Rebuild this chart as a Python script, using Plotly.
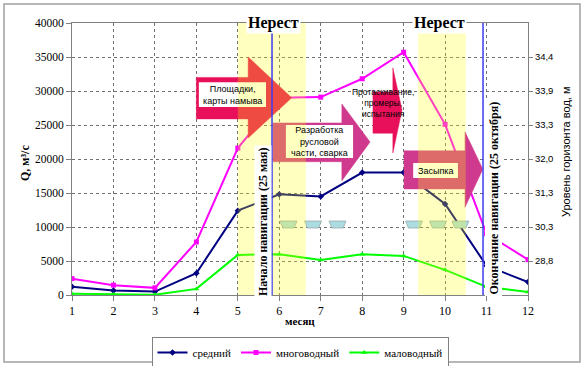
import plotly.graph_objects as go

# ---------------- data ----------------
months = list(range(1, 13))
q_mean = [1200, 650, 500, 3200, 12400, 14800, 14500, 18000, 18000, 13400, 4300, 1900]
q_high = [2400, 1450, 1050, 7800, 21600, 29000, 29100, 31800, 35700, 25100, 9000, 5200]
q_low = [200, 80, 40, 900, 5900, 6000, 5150, 6000, 5750, 3700, 1200, 450]
series_names = ["средний", "многоводный", "маловодный"]
level_tickvals = [5000, 10000, 15000, 20000, 25000, 30000, 35000]
level_ticktext = ["28,8", "30,3", "31,3", "32,0", "33,3", "33,9", "34,4"]
q_tickvals = [0, 5000, 10000, 15000, 20000, 25000, 30000, 35000, 40000]

SERIF = "Liberation Serif"
SANS = "Liberation Sans"

fig = go.Figure()
styles = [("#000080", "diamond"), ("#FF00FF", "square"), ("#00FF00", "triangle-up")]
for vals, name, (col, sym) in zip([q_mean, q_high, q_low], series_names, styles):
    fig.add_trace(go.Scatter(x=months, y=vals, name=name, mode="lines+markers",
                             line=dict(color=col, width=2),
                             marker=dict(color=col, symbol=sym, size=5)))
# invisible trace for right axis
fig.add_trace(go.Scatter(x=[1], y=[0], yaxis="y2", showlegend=False,
                         mode="markers", marker=dict(opacity=0), hoverinfo="skip"))

shapes = []
annotations = []


def arrow(bx0, bx1, by0, by1, hy0, hy1, tx, ty, color):
    path = (f"M {bx0},{by1} L {bx1},{by1} L {bx1},{hy1} L {tx},{ty} "
            f"L {bx1},{hy0} L {bx1},{by0} L {bx0},{by0} Z")
    shapes.append(dict(type="path", path=path, xref="x", yref="y",
                       fillcolor=color, line=dict(color=color, width=0.5), layer="above"))


def box(x0, x1, y0, y1):
    shapes.append(dict(type="rect", x0=x0, x1=x1, y0=y0, y1=y1, xref="x", yref="y",
                       fillcolor="white", line=dict(width=0), layer="above"))


CRIMSON = "#E8105A"
MAGENTA = "#D03A8E"
# arrows
arrow(4.0, 5.25, 25900, 32000, 23100, 35000, 6.3, 29000, CRIMSON)
arrow(5.85, 7.51, 19600, 25300, 16800, 28100, 8.19, 22500, MAGENTA)
arrow(8.26, 8.74, 23800, 29850, 20900, 33400, 8.96, 27200, CRIMSON)
arrow(9.01, 10.48, 15600, 21200, 12900, 24000, 10.91, 18500, MAGENTA)
# white text boxes
box(4.06, 5.68, 27650, 31300)
box(6.16, 7.78, 20150, 25000)
box(9.23, 10.31, 17200, 19400)

# barge trapezoids
barge_x = [6.223, 6.814, 7.405, 9.25, 9.83, 10.37]
for cx in barge_x:
    p = (f"M {cx-0.205},10880 L {cx+0.205},10880 L {cx+0.135},9850 "
         f"L {cx-0.135},9850 Z")
    shapes.append(dict(type="path", path=p, xref="x", yref="y", fillcolor="#ACDCE2",
                       line=dict(color="#90A0A0", width=0.7), layer="above"))

# yellow translucent bands (Нерест)
shapes.append(dict(type="rect", x0=5.0, x1=6.64, y0=0, y1=40000, xref="x", yref="y",
                   fillcolor="rgba(255,255,0,0.25)", line=dict(width=0), layer="above"))
shapes.append(dict(type="rect", x0=9.35, x1=10.5, y0=0, y1=38700, xref="x", yref="y",
                   fillcolor="rgba(255,255,0,0.25)", line=dict(width=0), layer="above"))

# navigation lines
for xv in [5.825, 10.915]:
    shapes.append(dict(type="line", x0=xv, x1=xv, y0=0, y1=40000, xref="x", yref="y",
                       line=dict(color="#3C3CF0", width=1.5), layer="above"))

# outer chart border
shapes.append(dict(type="rect", xref="paper", yref="paper",
                   x0=(4 - 72) / 456, x1=(580 - 72) / 456,
                   y0=(295 - 362) / 272, y1=(295 - 4) / 272,
                   line=dict(color="#A0A0A0", width=1.5), layer="below"))

# texts
annotations += [
    dict(x=4.87, y=29450, text="Площадки,<br>карты намыва", showarrow=False,
         font=dict(family=SANS, size=9, color="black")),
    dict(x=6.97, y=22570, text="Разработка<br>русловой<br>части, сварка", showarrow=False,
         font=dict(family=SANS, size=9, color="black")),
    dict(x=8.5, y=28200, text="Протаскивание,<br>промеры,<br>испытания", showarrow=False,
         font=dict(family=SANS, size=8.5, color="black")),
    dict(x=9.77, y=18300, text="Засыпка", showarrow=False,
         font=dict(family=SANS, size=9, color="black")),
    dict(x=5.85, y=40000, text="<b>Нерест</b>", showarrow=False, bgcolor="white",
         font=dict(family=SERIF, size=16, color="black"), borderpad=1),
    dict(x=9.877, y=40000, text="<b>Нерест</b>", showarrow=False, bgcolor="white",
         font=dict(family=SERIF, size=16, color="black"), borderpad=1),
    dict(x=5.607, y=10880, text="<b>Начало навигации (25 мая)</b>", showarrow=False,
         textangle=-90, bgcolor="white", font=dict(family=SERIF, size=12, color="black"),
         borderpad=1),
    dict(x=11.156, y=14190, text="<b>Окончание навигации (25 октября)</b>", showarrow=False,
         textangle=-90, bgcolor="white", font=dict(family=SERIF, size=12, color="black"),
         borderpad=1),
    dict(xref="paper", yref="paper", x=0.5, y=(295 - 329) / 272, text="<b>месяц</b>",
         showarrow=False, font=dict(family=SERIF, size=11, color="black")),
    dict(xref="paper", yref="paper", x=(25 - 72) / 456, y=(295 - 163) / 272,
         xanchor="center", yanchor="middle",
         text="<b>Q, м³/с</b>", textangle=-90, showarrow=False,
         font=dict(family=SERIF, size=12, color="black")),
    dict(xref="paper", yref="paper", x=(566 - 72) / 456, y=(295 - 152) / 272,
         xanchor="center", yanchor="middle",
         text="Уровень горизонта вод, м", textangle=-90, showarrow=False,
         font=dict(family=SANS, size=11, color="black")),
]

fig.update_layout(
    width=584, height=366,
    margin=dict(l=72, r=56, t=23, b=71, autoexpand=False),
    paper_bgcolor="white", plot_bgcolor="white",
    font=dict(family=SERIF, size=12, color="black"),
    shapes=shapes, annotations=annotations,
    showlegend=True,
    legend=dict(orientation="h", x=0.5, xanchor="center", y=(295 - 337) / 272,
                yanchor="top", bordercolor="#808080", borderwidth=1,
                font=dict(family=SERIF, size=11), itemwidth=30, tracegroupgap=0),
    xaxis=dict(range=[1, 12], tickvals=months, showgrid=True, gridcolor="#707070",
               griddash="dot", gridwidth=1, showline=True, linecolor="#808080",
               mirror=True, ticks="outside", ticklen=5, tickcolor="#808080",
               zeroline=False, tickfont=dict(family=SERIF, size=12), automargin=False),
    yaxis=dict(range=[0, 40000], tickvals=q_tickvals, tickformat="d", showgrid=True,
               gridcolor="#707070", griddash="dot", gridwidth=1, showline=True,
               linecolor="#808080", ticks="outside", ticklen=5, tickcolor="#808080",
               zeroline=False, tickfont=dict(family=SERIF, size=11.5), automargin=False),
    yaxis2=dict(range=[0, 40000], overlaying="y", side="right", tickvals=level_tickvals,
                ticktext=level_ticktext, showgrid=False, showline=True, linecolor="#808080",
                ticks="outside", ticklen=4, tickcolor="#808080", zeroline=False,
                tickfont=dict(family=SANS, size=9.5), automargin=False),
)

fig.write_html("out.html", config={"displayModeBar": False},
               post_script="document.body.style.margin='0';document.body.style.overflow='hidden';")
